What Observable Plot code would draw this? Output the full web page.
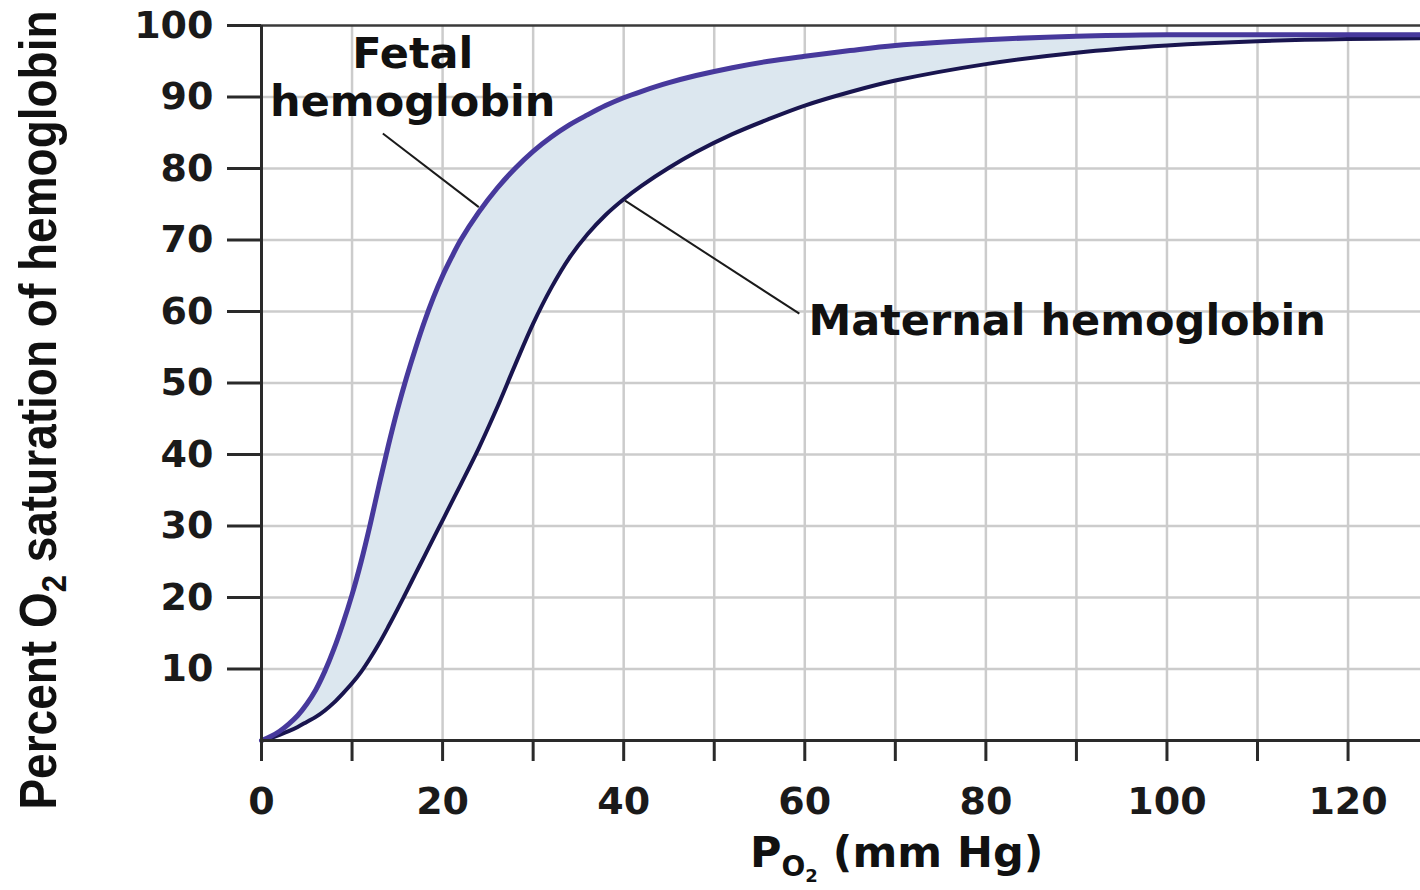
<!DOCTYPE html>
<html>
<head>
<meta charset="utf-8">
<script src="https://cdn.jsdelivr.net/npm/d3@7"></script>
<script src="https://cdn.jsdelivr.net/npm/@observablehq/plot@0.6"></script>
<style>
  html, body { margin: 0; padding: 0; background: #ffffff; }
  #chart svg { display: block; }
</style>
</head>
<body>
<div id="chart"></div>
<script>
// ---- Data ----
const pO2 = [0,1,2,3,4,5,6,7,8,9,10,11,12,13,14,15,16,17,18,19,20,21,22,24,26,28,30,32,34,36,38,40,42,45,48,52,56,60,65,70,80,90,100,110,120,128];
const fetal = [0,0.55,1.3,2.3,3.5,5.1,7.1,9.7,12.8,16.4,20.4,25.0,30.2,35.8,41.2,46.2,50.7,54.8,58.6,62.0,65.0,67.6,70.0,73.9,77.2,80.0,82.4,84.4,86.1,87.5,88.8,89.9,90.8,92.0,93.0,94.1,95.0,95.7,96.5,97.2,98.0,98.5,98.7,98.7,98.7,98.7];
const maternal = [0,0.35,0.8,1.3,1.9,2.6,3.3,4.2,5.3,6.6,8.0,9.6,11.5,13.6,15.9,18.3,20.8,23.3,25.8,28.3,30.8,33.3,35.8,40.9,46.5,52.5,58.3,63.3,67.5,70.8,73.5,75.7,77.6,80.1,82.3,84.8,86.9,88.8,90.7,92.3,94.6,96.2,97.2,97.8,98.1,98.2];

const yTicks = [10,20,30,40,50,60,70,80,90,100];
const xTicks = [0,10,20,30,40,50,60,70,80,90,100,110,120];
const xTickLabels = [0,20,40,60,80,100,120];

const labelTexts = ["Fetal\nhemoglobin", "Maternal hemoglobin"];
// annotation anchors in data units [PO2, saturation]
const fetalLabelAt = [16.7, 87.3];
const maternalLabelAt = [60.4, 56.7];
const fetalPointer = [[13.4, 84.9], [24.0, 74.6]];
const maternalPointer = [[59.4, 59.7], [40.15, 75.5]];

const rows = pO2.map((x, i) => ({x, f: fetal[i], m: maternal[i]}));

const BOLD_FONT = "'DejaVu Sans', 'Liberation Sans', Arial, sans-serif";

const plot = Plot.plot({
  width: 1420,
  height: 890,
  marginLeft: 261,
  marginRight: 0,
  marginTop: 25,
  marginBottom: 150,
  x: {domain: [0, 128], label: null},
  y: {domain: [0, 100], label: null},
  style: {
    background: "#ffffff",
    color: "#1a1a1a",
    fontFamily: BOLD_FONT,
    fontWeight: "bold",
    fontSize: "38px",
    overflow: "visible"
  },
  marks: [
    Plot.gridX(xTicks.filter(d => d > 0), {stroke: "#cccccc", strokeOpacity: 1, strokeWidth: 2.5}),
    Plot.gridY(yTicks.filter(d => d < 100), {stroke: "#cccccc", strokeOpacity: 1, strokeWidth: 2.5}),
    Plot.areaY(rows, {x: "x", y1: "m", y2: "f", fill: "#dce7ef", curve: "catmull-rom"}),
    Plot.line(rows, {x: "x", y: "m", stroke: "#19154f", strokeWidth: 4, curve: "catmull-rom"}),
    Plot.line(rows, {x: "x", y: "f", stroke: "#47399c", strokeWidth: 5, curve: "catmull-rom"}),
    Plot.ruleY([100], {stroke: "#3a3a3a", strokeWidth: 2.5}),
    Plot.ruleY([0], {stroke: "#2a2a2a", strokeWidth: 3}),
    Plot.ruleX([0], {stroke: "#2a2a2a", strokeWidth: 3}),
    Plot.axisY(yTicks, {
      tickSize: 34, tickPadding: 14, strokeWidth: 3, stroke: "#2a2a2a",
      fontSize: 38, fontWeight: "bold", label: null
    }),
    Plot.axisX(xTicks, {
      tickSize: 21, tickPadding: 26, strokeWidth: 3, stroke: "#2a2a2a",
      tickFormat: d => xTickLabels.includes(d) ? String(d) : "",
      fontSize: 38, fontWeight: "bold", label: null
    }),
    Plot.link([fetalPointer, maternalPointer], {
      x1: d => d[0][0], y1: d => d[0][1], x2: d => d[1][0], y2: d => d[1][1],
      stroke: "#1a1a1a", strokeWidth: 2
    }),
    Plot.text([labelTexts[0]], {
      x: fetalLabelAt[0], y: fetalLabelAt[1], text: d => d,
      textAnchor: "middle", lineAnchor: "bottom", lineHeight: 1.12,
      fontSize: 43, fontWeight: "bold", fill: "#111"
    }),
    Plot.text([labelTexts[1]], {
      x: maternalLabelAt[0], y: maternalLabelAt[1], text: d => d,
      textAnchor: "start", lineAnchor: "bottom",
      fontSize: 43, fontWeight: "bold", fill: "#111"
    })
  ]
});

// Axis titles with sub/sub-subscripts (real text)
const svg = d3.select(plot);
const yTitle = svg.append("text")
  .attr("transform", "translate(56,410) rotate(-90) scale(1,1.12)")
  .attr("text-anchor", "middle")
  .attr("fill", "#111")
  .style("font-family", "'Liberation Sans', Arial, sans-serif")
  .style("font-size", "46px")
  .style("font-weight", "bold");
yTitle.append("tspan").text("Percent O");
yTitle.append("tspan").attr("dy", 9).style("font-size", "31px").text("2");
yTitle.append("tspan").attr("dy", -9).text(" saturation of hemoglobin");

const xTitle = svg.append("text")
  .attr("x", 750).attr("y", 867)
  .attr("text-anchor", "start")
  .attr("fill", "#111")
  .style("font-family", BOLD_FONT)
  .style("font-size", "43px")
  .style("font-weight", "bold");
xTitle.append("tspan").text("P");
xTitle.append("tspan").attr("dy", 9).style("font-size", "28px").text("O");
xTitle.append("tspan").attr("dy", 6).style("font-size", "18px").text("2");
xTitle.append("tspan").attr("dy", -15).text(" (mm Hg)");

document.getElementById("chart").appendChild(plot);
</script>
</body>
</html>
